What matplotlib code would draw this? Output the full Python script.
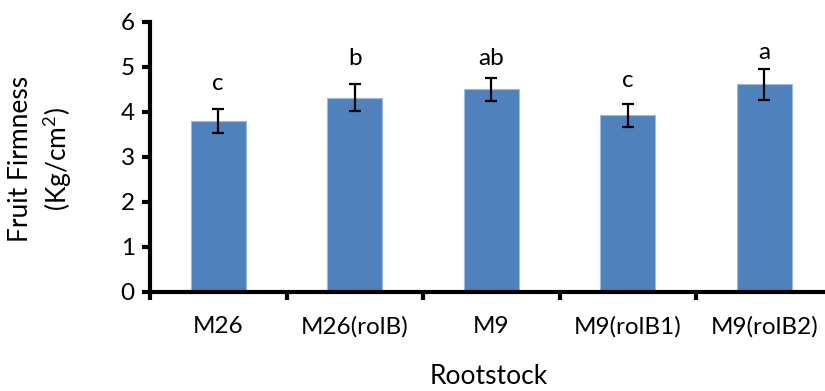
import matplotlib
matplotlib.use("Agg")
import matplotlib.pyplot as plt
import numpy as np

categories = ["M26", "M26(rolB)", "M9", "M9(rolB1)", "M9(rolB2)"]
values = [3.80, 4.31, 4.50, 3.92, 4.61]
errors = [0.27, 0.30, 0.26, 0.26, 0.35]
letters = ["c", "b", "ab", "c", "a"]
letter_y = [4.49, 5.03, 5.04, 4.55, 5.18]
yticks = [0, 1, 2, 3, 4, 5, 6]

plt.rcParams['font.family'] = ['Lato', 'DejaVu Sans']
plt.rcParams['mathtext.fontset'] = 'custom'
plt.rcParams['mathtext.rm'] = 'Lato'
plt.rcParams['mathtext.it'] = 'Lato'
plt.rcParams['mathtext.default'] = 'regular'

fig = plt.figure(figsize=(8.25, 3.91), dpi=100)
ax = fig.add_axes([150/825, 1-292/391, (832.5-150)/825, (292-21.7)/391])

x = np.arange(len(categories))
ax.bar(x, values, width=0.4, color="#4F81BD", edgecolor="#9DB9DD", linewidth=0.8, zorder=2)
ax.errorbar(x, values, yerr=errors, fmt='none', ecolor='black', elinewidth=1.6,
            capsize=4.5, capthick=1.6, zorder=3)
for xi, lab, ly in zip(x, letters, letter_y):
    ax.text(xi, ly, lab, ha='center', va='baseline', fontsize=17.5)

ax.set_xlim(-0.5, len(categories) - 0.5)
ax.set_ylim(0, 6)
ax.set_yticks(yticks)
ax.set_yticklabels([str(t) for t in yticks])
ax.set_xticks(np.arange(len(categories) + 1) - 0.5)
ax.set_xticklabels([])
ax.set_xticks(x, minor=True)
ax.set_xticklabels(categories, minor=True)
ax.tick_params(axis='x', which='major', direction='out', length=6, width=3)
ax.tick_params(axis='x', which='minor', length=0, pad=17, labelsize=17.5)
ax.tick_params(axis='y', direction='out', length=6, width=3, pad=5, labelsize=17.5)

for s in ['top', 'right']:
    ax.spines[s].set_visible(False)
for s in ['left', 'bottom']:
    ax.spines[s].set_linewidth(3)

fig.text(488.5/825, 1-377/391, "Rootstock", fontsize=19, ha='center', va='center')
fig.text(41/825, 1-159/391, "Fruit Firmness\n(Kg/cm$^{2}$)", fontsize=19, rotation=90,
         ha='center', va='center', multialignment='center', linespacing=1.35)

fig.savefig("out.png", dpi=100)
